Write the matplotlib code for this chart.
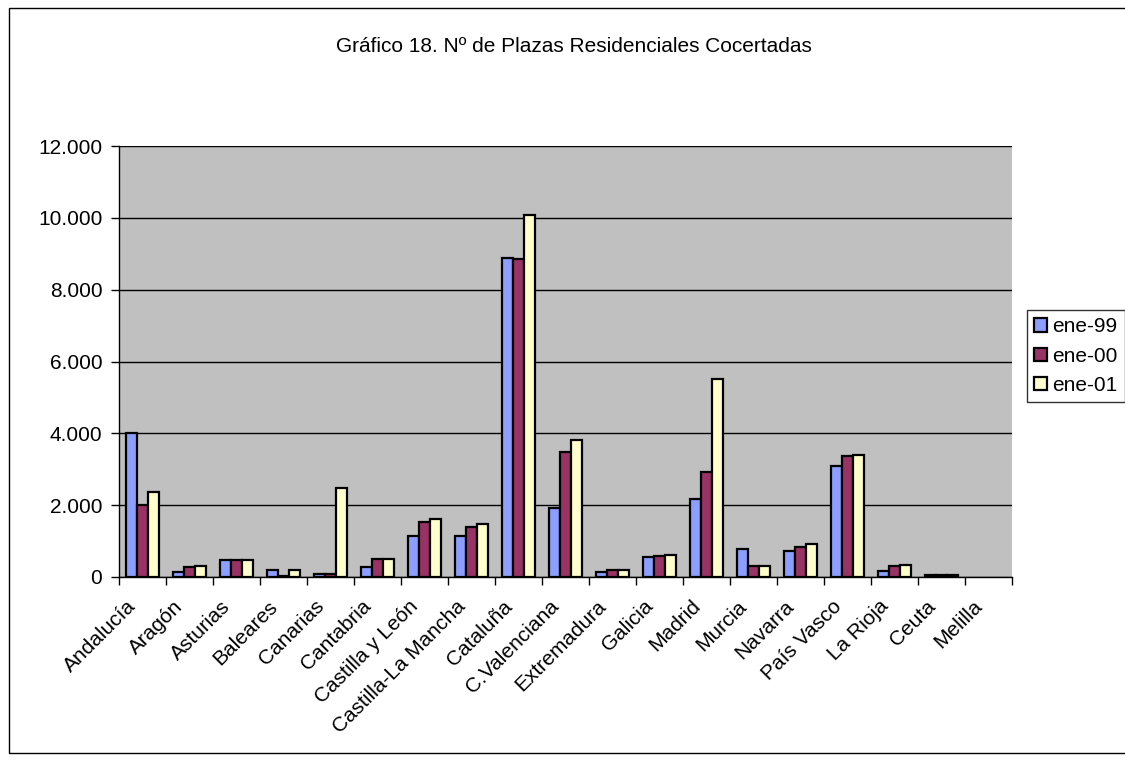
import matplotlib
matplotlib.use("Agg")
import matplotlib.pyplot as plt
import numpy as np
from matplotlib.ticker import FuncFormatter, FixedLocator
from matplotlib.patches import Rectangle
from matplotlib.transforms import ScaledTranslation

plt.rcParams['font.family'] = ['Liberation Sans', 'DejaVu Sans']

categories = ["Andalucía", "Aragón", "Asturias", "Baleares", "Canarias", "Cantabria",
              "Castilla y León", "Castilla-La Mancha", "Cataluña", "C.Valenciana",
              "Extremadura", "Galicia", "Madrid", "Murcia", "Navarra", "País Vasco",
              "La Rioja", "Ceuta", "Melilla"]
series_names = ["ene-99", "ene-00", "ene-01"]
ene99 = [4000, 140, 470, 200, 90, 270, 1140, 1150, 8870, 1935, 150, 560, 2170, 790, 725, 3100, 160, 50, 0]
ene00 = [2000, 270, 480, 30, 90, 500, 1525, 1395, 8850, 3470, 190, 585, 2930, 300, 830, 3360, 310, 50, 0]
ene01 = [2360, 320, 470, 200, 2490, 500, 1610, 1470, 10080, 3805, 190, 600, 5500, 305, 930, 3395, 330, 50, 0]
colors = ["#8C9EFF", "#993366", "#FFFFCC"]
title = "Gráfico 18. Nº de Plazas Residenciales Cocertadas"

FS = 15
fig = plt.figure(figsize=(11.25, 7.62), dpi=100)
ax = fig.add_axes([119/1125, 1-577/762, (1012-119)/1125, (577-146)/762])
ax.set_facecolor("#C0C0C0")

x = np.arange(len(categories))
w = 0.23
for i, (vals, c, n) in enumerate(zip([ene99, ene00, ene01], colors, series_names)):
    bars = ax.bar(x + (i-1)*w, vals, w, color=c, edgecolor="black", linewidth=1.6, label=n, zorder=3)
    for b, v in zip(bars, vals):
        if v == 0:
            b.set_visible(False)

ax.set_xlim(-0.5, len(categories)-0.5)
ax.set_ylim(0, 12000)
ax.yaxis.set_major_locator(FixedLocator(np.arange(0, 12001, 2000)))
ax.yaxis.set_major_formatter(FuncFormatter(lambda v, p: f"{int(v):,}".replace(",", ".")))
ax.grid(axis='y', color="black", linewidth=1, zorder=1)
ax.set_axisbelow(True)

ax.set_xticks(x)
ax.set_xticklabels(categories, rotation=45, ha='right', rotation_mode='anchor', fontsize=FS)
ax.tick_params(axis='x', which='major', length=0, pad=12)
ax.set_xticks(np.arange(-0.5, len(categories)), minor=True)
ax.tick_params(axis='x', which='minor', length=6, direction='out', width=1)
ax.tick_params(axis='y', length=6, width=1, labelsize=FS, pad=6)

offset = ScaledTranslation(-0.16, -0.03, fig.dpi_scale_trans)
for lab in ax.get_xticklabels():
    lab.set_transform(lab.get_transform() + offset)

for s in ['top', 'right']:
    ax.spines[s].set_visible(False)
for s in ['left', 'bottom']:
    ax.spines[s].set_linewidth(1)

fig.text(574/1125, 1-47/762, title, ha='center', va='center', fontsize=FS)

leg = fig.legend(loc='upper left', bbox_to_anchor=(1027/1125, 1-310/762), frameon=True,
                 fontsize=FS, handlelength=0.6, handleheight=0.6, handletextpad=0.25,
                 borderpad=0.35, labelspacing=0.5, borderaxespad=0)
leg.get_frame().set_edgecolor("black")
leg.get_frame().set_linewidth(1)
leg.get_frame().set_boxstyle("square", pad=0)
for h in leg.legend_handles:
    h.set_linewidth(1.6)

fig.patches.append(Rectangle((9/1125, 1-753/762), 1.2, (753-8)/762, transform=fig.transFigure,
                             fill=False, edgecolor="black", linewidth=1))

fig.savefig("out.png", dpi=100)
